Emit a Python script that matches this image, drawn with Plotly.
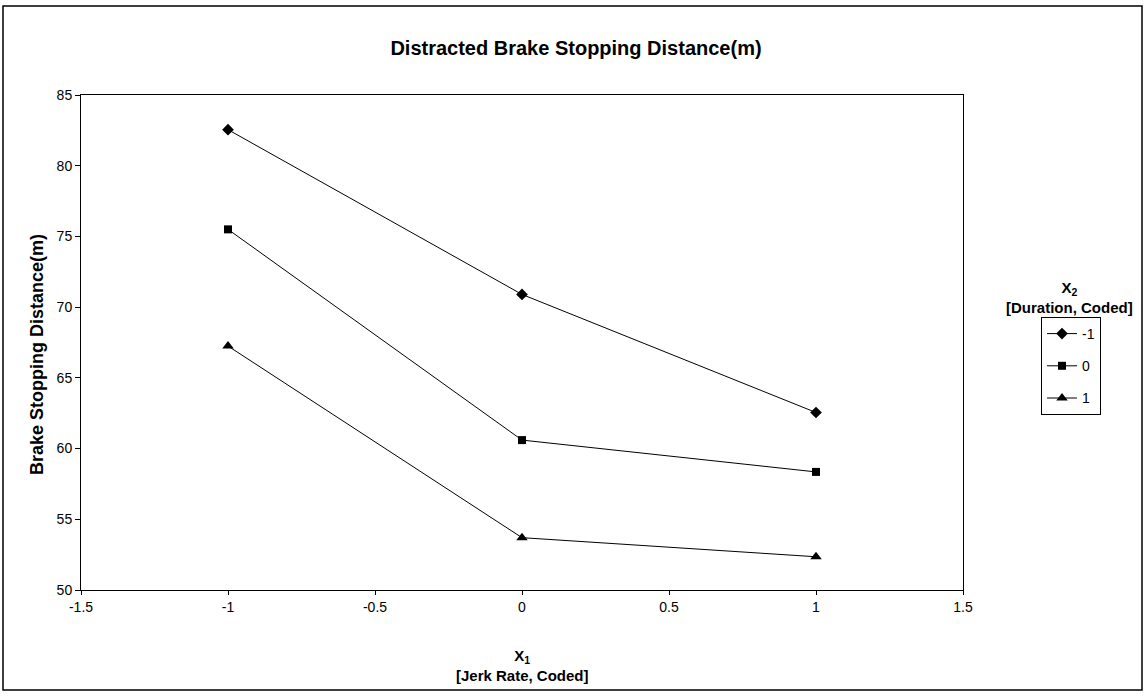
import plotly.graph_objects as go

x_levels = [-1, 0, 1]
series_names = ["-1", "0", "1"]
y_m1 = [82.55, 70.9, 62.55]
y_0 = [75.5, 60.6, 58.35]
y_p1 = [67.25, 53.7, 52.35]
symbols = ["diamond", "square", "triangle-up"]
sizes = [9, 8, 10]
x_ticks = [-1.5, -1, -0.5, 0, 0.5, 1, 1.5]
y_ticks = [50, 55, 60, 65, 70, 75, 80, 85]

FONT = "Liberation Sans, Arial, sans-serif"
L, R, T, B = 81, 963, 95, 590
PW, PH = R - L, B - T


def px(x):
    return (x - L) / PW


def py(y):
    return (B - y) / PH


fig = go.Figure()
for name, ys, sym, sz in zip(series_names, [y_m1, y_0, y_p1], symbols, sizes):
    fig.add_trace(go.Scatter(
        x=x_levels, y=ys, name=name, mode="lines+markers",
        line=dict(color="black", width=1),
        marker=dict(symbol=sym, size=sz, color="black"),
        legendgroup=name,
    ))

fig.update_layout(
    width=1146, height=696,
    margin=dict(l=L, r=1146 - R, t=T, b=696 - B),
    paper_bgcolor="white", plot_bgcolor="white",
    font=dict(family=FONT, size=14, color="black"),
    title=dict(text="<b>Distracted Brake Stopping Distance(m)</b>",
               x=576 / 1146, xanchor="center", y=1 - 48 / 696, yanchor="middle",
               font=dict(size=20, family=FONT)),
    showlegend=True,
    legend=dict(x=px(1041), y=py(317), xanchor="left", yanchor="top",
                bordercolor="black", borderwidth=1, bgcolor="white",
                font=dict(size=14, family=FONT), tracegroupgap=11,
                itemwidth=30),
    xaxis=dict(range=[-1.5, 1.5], tickvals=x_ticks, ticktext=["-1.5", "-1", "-0.5", "0", "0.5", "1", "1.5"],
               showgrid=False, zeroline=False, showline=True, linecolor="black", linewidth=1,
               ticks="outside", ticklen=4, tickcolor="black", mirror=True,
               tickfont=dict(size=14)),
    yaxis=dict(range=[50, 85], tickvals=y_ticks, showgrid=False, zeroline=False,
               showline=True, linecolor="black", linewidth=1, mirror=True,
               ticks="outside", ticklen=5, tickcolor="black",
               tickfont=dict(size=14)),
)

# axis titles
fig.add_annotation(text="<b>X<sub>1</sub><br>[Jerk Rate, Coded]</b>", xref="paper", yref="paper",
                   x=px(522), y=py(665), xanchor="center", yanchor="middle",
                   showarrow=False, font=dict(size=15, family=FONT), align="center")
fig.add_annotation(text="<b>Brake Stopping Distance(m)</b>", xref="paper", yref="paper",
                   x=px(37), y=py(355), xanchor="center", yanchor="middle", textangle=-90,
                   showarrow=False, font=dict(size=18, family=FONT))
# legend title
fig.add_annotation(text="<b>X<sub>2</sub><br>[Duration, Coded]</b>", xref="paper", yref="paper",
                   x=px(1069), y=py(297), xanchor="center", yanchor="middle",
                   showarrow=False, font=dict(size=15, family=FONT), align="center")

fig.add_shape(type="rect", xref="paper", yref="paper",
              x0=px(3), x1=px(1142), y0=py(690), y1=py(6),
              line=dict(color="black", width=1.5), fillcolor="rgba(0,0,0,0)", layer="below")

fig.write_html("out.html", config={"displayModeBar": False},
               post_script="document.body.style.margin='0';document.body.style.overflow='hidden';")
